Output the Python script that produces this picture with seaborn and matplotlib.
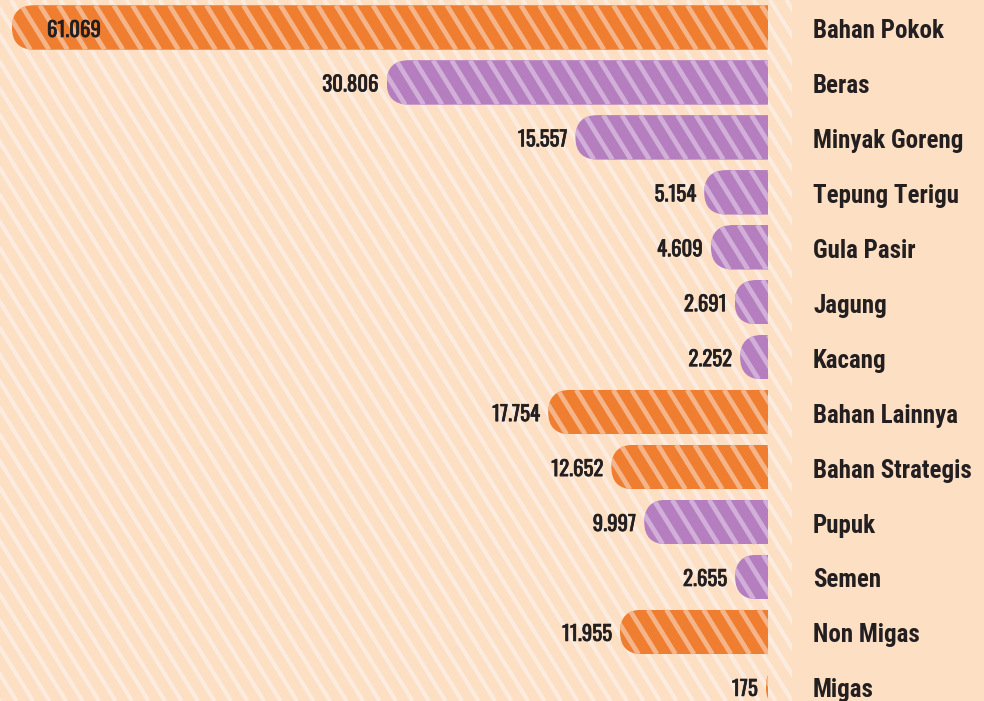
import matplotlib
matplotlib.use("Agg")
import matplotlib.pyplot as plt
import matplotlib.patheffects as pe
from matplotlib.patches import FancyBboxPatch
from matplotlib.collections import LineCollection
from matplotlib.transforms import IdentityTransform, Bbox
import numpy as np
import pandas as pd
import seaborn as sns

# Data
categories = ["Bahan Pokok", "Beras", "Minyak Goreng", "Tepung Terigu", "Gula Pasir",
              "Jagung", "Kacang", "Bahan Lainnya", "Bahan Strategis", "Pupuk",
              "Semen", "Non Migas", "Migas"]
values = [61069, 30806, 15557, 5154, 4609, 2691, 2252, 17754, 12652, 9997, 2655, 11955, 175]
groups = ["total", "rincian", "rincian", "rincian", "rincian", "rincian", "rincian",
          "total", "total", "rincian", "rincian", "total", "total"]

BG = "#FDDFC4"
BG_STRIPE = "#FBECDF"
ORANGE = "#F07E31"
PURPLE = "#B57EBF"
STRIPE = {ORANGE: "#F5B58B", PURPLE: "#D2AFD9"}
TXT = "#231F20"

sns.set_theme(style="white")
plt.rcParams["font.family"] = ["Roboto Condensed", "DejaVu Sans"]
VAL_FONT = ["Oswald", "Roboto Condensed", "DejaVu Sans"]

df = pd.DataFrame({"kategori": categories, "nilai": values, "kelompok": groups})

W, H = 984, 701
fig = plt.figure(figsize=(W / 100, H / 100), dpi=100, facecolor=BG)
ax = fig.add_axes([0, 0, 768 / W, 1])
ax.set_facecolor("none")

sns.barplot(data=df, x="nilai", y="kategori", hue="kelompok", orient="h",
            palette={"total": ORANGE, "rincian": PURPLE}, dodge=False,
            width=0.81, saturation=1, legend=False, ax=ax, linewidth=0)

ax.set_xlim(62036, 0)
ax.set_ylim(12.257, -0.50)
ax.axis("off")

# diagonal stripes, in pixel space
slope = 0.62
def stripes(x_from, x_to, y_bot, y_top, step):
    segs = []
    span = slope * (y_top - y_bot)
    for x0 in np.arange(x_from - span - step, x_to + step, step):
        segs.append([(x0, y_top), (x0 + span, y_bot)])
    return segs

bg = LineCollection(stripes(0, 800, 0, H, 16.5), colors=BG_STRIPE, linewidths=3.0,
                    transform=IdentityTransform(), zorder=-1)
bg.set_clip_box(Bbox.from_extents(0, 0, 792, H))
fig.add_artist(bg)

# rounded left ends + bar stripes
for p in ax.patches:
    (x0, y0), (x1, y1) = ax.transData.transform([(p.get_x(), p.get_y()),
                                                 (p.get_x() + p.get_width(), p.get_y() + p.get_height())])
    xl, xr = min(x0, x1), max(x0, x1)
    yb, yt = min(y0, y1), max(y0, y1)
    r = (yt - yb) / 2
    pill = FancyBboxPatch((xl, yb), (xr - xl) + 2 * r + 4, yt - yb,
                          boxstyle=f"round,pad=0,rounding_size={r}",
                          transform=IdentityTransform())
    p.set_clip_path(pill)
    col = matplotlib.colors.to_hex(p.get_facecolor()).upper()
    lc = LineCollection(stripes(xl, xr, yb, yt, 18.5), colors=STRIPE.get(col, "#FFFFFF"),
                        linewidths=3.4, transform=IdentityTransform(), zorder=3)
    ax.add_collection(lc, autolim=False)
    lc.set_clip_path(pill)

# value labels (light stroke to thicken the condensed digits)
thick = [pe.withStroke(linewidth=0.5, foreground=TXT)]
for i, v in enumerate(values):
    lab = f"{v:,}".replace(",", ".")
    if i == 0:
        ax.annotate(lab, xy=(v, i), xytext=(35, -9.5), textcoords="offset pixels",
                    ha="left", va="baseline", fontsize=15, family=VAL_FONT, color=TXT,
                    annotation_clip=False, zorder=5, path_effects=thick)
    else:
        ax.annotate(lab, xy=(v, i), xytext=(-8, -9), textcoords="offset pixels",
                    ha="right", va="baseline", fontsize=15, family=VAL_FONT, color=TXT,
                    annotation_clip=False, zorder=5, path_effects=thick)

# category labels
for i, c in enumerate(categories):
    ax.annotate(c, xy=(0, i), xytext=(45, -10.5), textcoords="offset pixels",
                ha="left", va="baseline", fontsize=18, fontweight="bold", color=TXT,
                annotation_clip=False)

fig.savefig("out.png", dpi=100, facecolor=BG)
